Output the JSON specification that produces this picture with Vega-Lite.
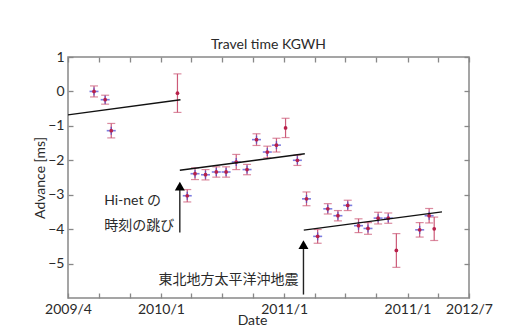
{
  "$schema": "https://vega.github.io/schema/vega-lite/v6.json",
  "autosize": "none",
  "width": 401,
  "height": 241,
  "padding": {"left": 68, "top": 57, "right": 42, "bottom": 31},
  "background": "white",
  "config": {
    "font": "Lato",
    "view": {"stroke": "#888888", "strokeWidth": 1.5},
    "axis": {"grid": false, "domain": false, "tickColor": "#888888", "tickWidth": 1.3, "tickSize": 5, "offset": -5, "labelColor": "#2a2a2a", "titleColor": "#2a2a2a", "labelFont": "Lato", "titleFont": "Lato", "labelFontSize": 14, "titleFontSize": 14, "titleFontWeight": "normal"}
  },
  "title": {"text": "Travel time KGWH", "fontSize": 14, "fontWeight": "normal", "font": "Lato", "color": "#2a2a2a", "offset": -2},
  "datasets": {
    "pts": [
      {"date": "2009-06-17", "adv": 0.0, "err": 0.16, "plus": "yes"},
      {"date": "2009-07-20", "adv": -0.24, "err": 0.13, "plus": "yes"},
      {"date": "2009-08-07", "adv": -1.14, "err": 0.21, "plus": "yes"},
      {"date": "2010-02-19", "adv": -0.05, "err": 0.56, "plus": "no"},
      {"date": "2010-03-20", "adv": -3.03, "err": 0.18, "plus": "yes"},
      {"date": "2010-04-12", "adv": -2.39, "err": 0.17, "plus": "yes"},
      {"date": "2010-05-13", "adv": -2.42, "err": 0.15, "plus": "yes"},
      {"date": "2010-06-14", "adv": -2.34, "err": 0.15, "plus": "yes"},
      {"date": "2010-07-13", "adv": -2.34, "err": 0.15, "plus": "yes"},
      {"date": "2010-08-12", "adv": -2.05, "err": 0.22, "plus": "yes"},
      {"date": "2010-09-13", "adv": -2.27, "err": 0.15, "plus": "yes"},
      {"date": "2010-10-11", "adv": -1.40, "err": 0.17, "plus": "yes"},
      {"date": "2010-11-12", "adv": -1.76, "err": 0.17, "plus": "yes"},
      {"date": "2010-12-09", "adv": -1.56, "err": 0.20, "plus": "yes"},
      {"date": "2011-01-05", "adv": -1.06, "err": 0.28, "plus": "no"},
      {"date": "2011-02-09", "adv": -2.00, "err": 0.15, "plus": "yes"},
      {"date": "2011-03-08", "adv": -3.12, "err": 0.20, "plus": "yes"},
      {"date": "2011-04-10", "adv": -4.21, "err": 0.20, "plus": "yes"},
      {"date": "2011-05-10", "adv": -3.41, "err": 0.15, "plus": "yes"},
      {"date": "2011-06-09", "adv": -3.61, "err": 0.15, "plus": "yes"},
      {"date": "2011-07-08", "adv": -3.31, "err": 0.15, "plus": "yes"},
      {"date": "2011-08-09", "adv": -3.90, "err": 0.20, "plus": "yes"},
      {"date": "2011-09-06", "adv": -3.98, "err": 0.17, "plus": "yes"},
      {"date": "2011-10-06", "adv": -3.68, "err": 0.17, "plus": "yes"},
      {"date": "2011-11-05", "adv": -3.68, "err": 0.15, "plus": "yes"},
      {"date": "2011-11-29", "adv": -4.62, "err": 0.49, "plus": "no"},
      {"date": "2012-02-06", "adv": -4.02, "err": 0.21, "plus": "yes"},
      {"date": "2012-03-05", "adv": -3.61, "err": 0.21, "plus": "yes"},
      {"date": "2012-03-20", "adv": -3.99, "err": 0.34, "plus": "no"}
    ],
    "trend": [
      {"seg": "a", "date": "2009-04-01", "adv": -0.68},
      {"seg": "a", "date": "2010-02-28", "adv": -0.24},
      {"seg": "b", "date": "2010-02-26", "adv": -2.29},
      {"seg": "b", "date": "2011-03-03", "adv": -1.81},
      {"seg": "c", "date": "2011-02-28", "adv": -4.03},
      {"seg": "c", "date": "2012-04-12", "adv": -3.50}
    ],
    "arrows": [
      {"date": "2010-02-26", "from": -4.1, "to": -2.75},
      {"date": "2011-02-27", "from": -5.9, "to": -4.45}
    ],
    "notes": [
      {"date": "2009-07-17", "adv": -3.19, "text": "Hi-net の", "side": "left"},
      {"date": "2009-07-17", "adv": -3.92, "text": "時刻の跳び", "side": "left"},
      {"date": "2011-02-12", "adv": -5.47, "text": "東北地方太平洋沖地震", "side": "right"}
    ]
  },
  "layer": [
    {
      "data": {"name": "pts"},
      "mark": {"type": "rule", "color": "#cc5a78", "strokeWidth": 1.2},
      "transform": [{"calculate": "datum.adv - datum.err", "as": "lo"}, {"calculate": "datum.adv + datum.err", "as": "hi"}],
      "encoding": {
        "x": {"field": "date", "type": "temporal",
              "scale": {"type": "utc", "domain": [{"year": 2009, "month": 4, "date": 1, "utc": true}, {"year": 2012, "month": 7, "date": 1, "utc": true}]},
              "axis": {"orient": "bottom", "title": "Date", "labelPadding": 4, "labelFlush": false, "labelOverlap": false, "titlePadding": -3, "titleX": 184,
                       "values": [
                         {"year": 2009, "month": 4, "date": 1, "utc": true}, {"year": 2009, "month": 7, "date": 1, "utc": true}, {"year": 2009, "month": 10, "date": 1, "utc": true},
                         {"year": 2010, "month": 1, "date": 1, "utc": true}, {"year": 2010, "month": 4, "date": 1, "utc": true}, {"year": 2010, "month": 7, "date": 1, "utc": true}, {"year": 2010, "month": 10, "date": 1, "utc": true},
                         {"year": 2011, "month": 1, "date": 1, "utc": true}, {"year": 2011, "month": 4, "date": 1, "utc": true}, {"year": 2011, "month": 7, "date": 1, "utc": true}, {"year": 2011, "month": 10, "date": 1, "utc": true},
                         {"year": 2012, "month": 1, "date": 1, "utc": true}, {"year": 2012, "month": 4, "date": 1, "utc": true}, {"year": 2012, "month": 7, "date": 1, "utc": true}],
                       "labelExpr": "utcFormat(datum.value, '%Y-%m') == '2009-04' ? '2009/4' : utcFormat(datum.value, '%Y-%m') == '2010-01' ? '2010/1' : utcFormat(datum.value, '%Y-%m') == '2011-01' ? '2011/1' : utcFormat(datum.value, '%Y-%m') == '2012-01' ? '2011/1' : utcFormat(datum.value, '%Y-%m') == '2012-07' ? '2012/7' : ''"}},
        "y": {"field": "lo", "type": "quantitative",
              "scale": {"domain": [-6, 1], "nice": false, "zero": false},
              "axis": {"orient": "left", "title": "Advance [ms]", "values": [-5, -4, -3, -2, -1, 0, 1], "labelPadding": 4, "titlePadding": 0}},
        "y2": {"field": "hi"}
      }
    },
    {
      "data": {"name": "pts"},
      "mark": {"type": "tick", "orient": "horizontal", "color": "#cc5a78", "size": 8, "thickness": 1.2},
      "transform": [{"calculate": "datum.adv - datum.err", "as": "lo"}],
      "encoding": {"x": {"field": "date", "type": "temporal", "axis": null}, "y": {"field": "lo", "type": "quantitative", "axis": null}}
    },
    {
      "data": {"name": "pts"},
      "mark": {"type": "tick", "orient": "horizontal", "color": "#cc5a78", "size": 8, "thickness": 1.2},
      "transform": [{"calculate": "datum.adv + datum.err", "as": "hi"}],
      "encoding": {"x": {"field": "date", "type": "temporal", "axis": null}, "y": {"field": "hi", "type": "quantitative", "axis": null}}
    },
    {
      "data": {"name": "pts"},
      "transform": [{"filter": "datum.plus == 'yes'"}],
      "mark": {"type": "tick", "orient": "horizontal", "color": "#4646d2", "size": 9, "thickness": 1.6},
      "encoding": {"x": {"field": "date", "type": "temporal", "axis": null}, "y": {"field": "adv", "type": "quantitative", "axis": null}}
    },
    {
      "data": {"name": "pts"},
      "transform": [{"filter": "datum.plus == 'yes'"}],
      "mark": {"type": "tick", "orient": "vertical", "color": "#4646d2", "size": 8, "thickness": 1.4},
      "encoding": {"x": {"field": "date", "type": "temporal", "axis": null}, "y": {"field": "adv", "type": "quantitative", "axis": null}}
    },
    {
      "data": {"name": "pts"},
      "mark": {"type": "point", "filled": true, "color": "#b8204a", "size": 14, "opacity": 1},
      "encoding": {"x": {"field": "date", "type": "temporal", "axis": null}, "y": {"field": "adv", "type": "quantitative", "axis": null}}
    },
    {
      "data": {"name": "trend"},
      "mark": {"type": "line", "color": "#111111", "strokeWidth": 1.4},
      "encoding": {"x": {"field": "date", "type": "temporal", "axis": null}, "y": {"field": "adv", "type": "quantitative", "axis": null}, "detail": {"field": "seg"}}
    },
    {
      "data": {"name": "arrows"},
      "mark": {"type": "rule", "color": "#222222", "strokeWidth": 1.4},
      "encoding": {"x": {"field": "date", "type": "temporal", "axis": null}, "y": {"field": "from", "type": "quantitative", "axis": null}, "y2": {"field": "to"}}
    },
    {
      "data": {"name": "arrows"},
      "mark": {"type": "point", "shape": "triangle-up", "filled": true, "color": "#000000", "size": 100, "opacity": 1},
      "encoding": {"x": {"field": "date", "type": "temporal", "axis": null}, "y": {"field": "to", "type": "quantitative", "axis": null}}
    },
    {
      "data": {"name": "notes"},
      "transform": [{"filter": "datum.side == 'left'"}],
      "mark": {"type": "text", "align": "left", "baseline": "middle", "font": "Lato, Noto Sans CJK JP", "fontSize": 14, "color": "#2a2a2a"},
      "encoding": {"x": {"field": "date", "type": "temporal", "axis": null}, "y": {"field": "adv", "type": "quantitative", "axis": null}, "text": {"field": "text"}}
    },
    {
      "data": {"name": "notes"},
      "transform": [{"filter": "datum.side == 'right'"}],
      "mark": {"type": "text", "align": "right", "baseline": "middle", "font": "Noto Sans CJK JP", "fontSize": 14, "color": "#2a2a2a"},
      "encoding": {"x": {"field": "date", "type": "temporal", "axis": null}, "y": {"field": "adv", "type": "quantitative", "axis": null}, "text": {"field": "text"}}
    },
    {
      "data": {"name": "trend"},
      "mark": {"type": "point", "opacity": 0},
      "encoding": {
        "x": {"field": "date", "type": "temporal",
              "axis": {"orient": "top", "title": null, "labels": false,
                       "values": [
                         {"year": 2009, "month": 4, "date": 1, "utc": true}, {"year": 2009, "month": 7, "date": 1, "utc": true}, {"year": 2009, "month": 10, "date": 1, "utc": true},
                         {"year": 2010, "month": 1, "date": 1, "utc": true}, {"year": 2010, "month": 4, "date": 1, "utc": true}, {"year": 2010, "month": 7, "date": 1, "utc": true}, {"year": 2010, "month": 10, "date": 1, "utc": true},
                         {"year": 2011, "month": 1, "date": 1, "utc": true}, {"year": 2011, "month": 4, "date": 1, "utc": true}, {"year": 2011, "month": 7, "date": 1, "utc": true}, {"year": 2011, "month": 10, "date": 1, "utc": true},
                         {"year": 2012, "month": 1, "date": 1, "utc": true}, {"year": 2012, "month": 4, "date": 1, "utc": true}, {"year": 2012, "month": 7, "date": 1, "utc": true}]}},
        "y": {"field": "adv", "type": "quantitative",
              "axis": {"orient": "right", "title": null, "labels": false, "values": [-5, -4, -3, -2, -1, 0, 1]}}
      }
    }
  ],
  "resolve": {"axis": {"x": "independent", "y": "independent"}}
}
